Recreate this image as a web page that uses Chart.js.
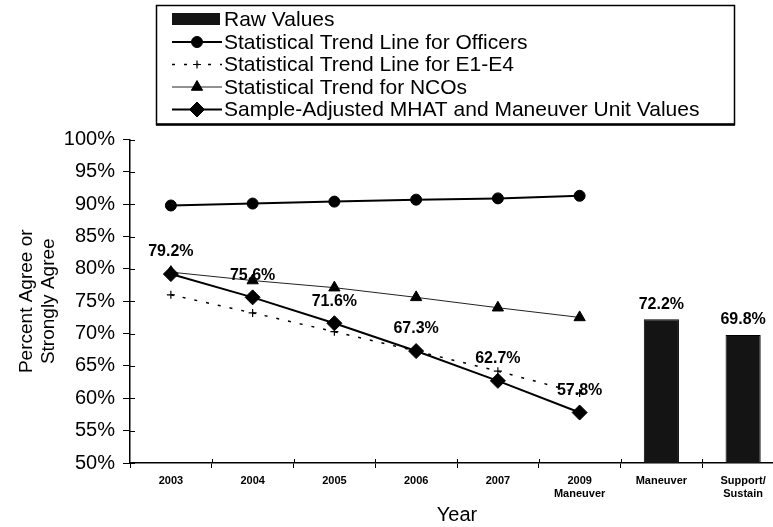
<!DOCTYPE html>
<html>
<head>
<meta charset="utf-8">
<script src="https://cdn.jsdelivr.net/npm/chart.js@4"></script>
<style>
html,body{margin:0;padding:0;background:#fff;overflow:hidden;}
#wrap{position:absolute;left:0;top:0;width:800px;height:527px;}
</style>
</head>
<body>
<div id="wrap"><canvas id="c" width="800" height="527"></canvas></div>
<script>
const categories = ['2003','2004','2005','2006','2007',['2009','Maneuver'],'Maneuver',['Support/','Sustain']];
const rawValues = [null,null,null,null,null,null,72.2,69.8];
const officers = [89.8,90.1,90.4,90.7,90.9,91.3,null,null];
const e1e4 = [76.0,73.2,70.3,67.3,64.2,60.8,null,null];
const ncos = [79.5,78.2,77.1,75.6,74.0,72.5,null,null];
const mhat = [79.2,75.6,71.6,67.3,62.7,57.8,null,null];
const yTicks = [50,55,60,65,70,75,80,85,90,95,100];

const FONT = "'Liberation Sans', Arial, Helvetica, sans-serif";

const legendPlugin = {
  id: 'customLegend',
  afterDraw(chart) {
    const ctx = chart.ctx;
    ctx.save();
    ctx.strokeStyle = '#000';
    ctx.lineWidth = 1.5;
    ctx.strokeRect(156.5, 5.5, 578, 119);
    ctx.lineWidth = 2.5;
    ctx.beginPath(); ctx.moveTo(156, 124.5); ctx.lineTo(735, 124.5); ctx.stroke();
    const rowY = [19, 42, 64.5, 87, 109.5];
    chart.data.datasets.forEach((ds, i) => {
      const y = rowY[i];
      if (ds.type === 'bar') {
        ctx.fillStyle = ds.backgroundColor;
        ctx.fillRect(172, y - 6, 48, 12);
      } else {
        ctx.save();
        ctx.strokeStyle = ds.borderColor;
        ctx.lineWidth = ds.borderWidth;
        ctx.setLineDash(ds.borderDash || []);
        ctx.beginPath(); ctx.moveTo(172, y); ctx.lineTo(222, y); ctx.stroke();
        ctx.restore();
        ctx.fillStyle = ds.pointBackgroundColor;
        ctx.strokeStyle = ds.pointBorderColor;
        ctx.lineWidth = ds.pointBorderWidth;
        Chart.helpers.drawPoint(ctx, {pointStyle: ds.pointStyle, radius: ds.pointRadius, rotation: 0, borderWidth: ds.pointBorderWidth}, 197, y);
      }
      ctx.fillStyle = '#000';
      ctx.font = '21px ' + FONT;
      ctx.textAlign = 'left';
      ctx.textBaseline = 'middle';
      ctx.fillText(ds.label, 224, y + 1);
    });
    ctx.restore();
  }
};

const labelsPlugin = {
  id: 'valueLabels',
  afterDatasetsDraw(chart) {
    const ctx = chart.ctx;
    ctx.save();
    ctx.fillStyle = '#000';
    ctx.font = 'bold 16px ' + FONT;
    ctx.textAlign = 'center';
    ctx.textBaseline = 'middle';
    const mMeta = chart.getDatasetMeta(4);
    mMeta.data.forEach((pt, i) => {
      if (mhat[i] == null) return;
      ctx.fillText(mhat[i].toFixed(1) + '%', pt.x, pt.y - 22);
    });
    const bMeta = chart.getDatasetMeta(0);
    bMeta.data.forEach((bar, i) => {
      if (rawValues[i] == null) return;
      ctx.fillText(rawValues[i].toFixed(1) + '%', bar.x, bar.y - 15);
    });
    ctx.restore();
  }
};

const innerTicks = {
  id: 'innerTicks',
  afterDraw(chart) {
    const ctx = chart.ctx;
    const y = chart.scales.y, x = chart.scales.x;
    ctx.save();
    ctx.strokeStyle = '#000';
    ctx.lineWidth = 1;
    yTicks.forEach(v => {
      const py = Math.round(y.getPixelForValue(v)) + 0.5;
      ctx.beginPath(); ctx.moveTo(y.right, py); ctx.lineTo(y.right + 5, py); ctx.stroke();
    });
    for (let i = 1; i <= categories.length; i++) {
      const px = Math.round(x.getPixelForTick(i - 1) + (x.getPixelForTick(1) - x.getPixelForTick(0)) / 2) + 0.5;
      ctx.beginPath(); ctx.moveTo(px, x.top); ctx.lineTo(px, x.top - 4); ctx.stroke();
    }
    ctx.restore();
  }
};

const ctx = document.getElementById('c').getContext('2d');
new Chart(ctx, {
  data: {
    labels: categories,
    datasets: [
      {
        type: 'bar', label: 'Raw Values', data: rawValues,
        backgroundColor: '#141414', borderColor: '#000', borderWidth: 1,
        barPercentage: 0.43, categoryPercentage: 1, order: 5
      },
      {
        type: 'line', label: 'Statistical Trend Line for Officers', data: officers,
        borderColor: '#000', borderWidth: 2, pointStyle: 'circle', pointRadius: 5.5,
        pointBackgroundColor: '#000', pointBorderColor: '#000', pointBorderWidth: 1, order: 2
      },
      {
        type: 'line', label: 'Statistical Trend Line for E1-E4', data: e1e4,
        borderColor: '#000', borderWidth: 1.5, borderDash: [3, 9], pointStyle: 'cross', pointRadius: 4,
        pointBackgroundColor: '#000', pointBorderColor: '#000', pointBorderWidth: 1.2, order: 3
      },
      {
        type: 'line', label: 'Statistical Trend for NCOs', data: ncos,
        borderColor: '#222', borderWidth: 1, pointStyle: 'triangle', pointRadius: 6.5,
        pointBackgroundColor: '#000', pointBorderColor: '#000', pointBorderWidth: 1, order: 4
      },
      {
        type: 'line', label: 'Sample-Adjusted MHAT and Maneuver Unit Values', data: mhat,
        borderColor: '#000', borderWidth: 2, pointStyle: 'rectRot', pointRadius: 7.5,
        pointBackgroundColor: '#000', pointBorderColor: '#000', pointBorderWidth: 1, order: 1
      }
    ]
  },
  options: {
    responsive: false,
    animation: false,
    layout: { padding: { top: 139.5, right: 16, left: 0, bottom: 0 } },
    plugins: { legend: { display: false }, tooltip: { enabled: false } },
    elements: { line: { tension: 0 } },
    scales: {
      x: {
        type: 'category',
        offset: true,
        grid: { display: true, drawOnChartArea: false, drawTicks: true, tickLength: 5, color: '#000', offset: true },
        border: { display: true, color: '#000', width: 1.5 },
        ticks: { color: '#000', font: { family: FONT, size: 11, weight: 'bold' }, padding: 6, maxRotation: 0, autoSkip: false },
        title: { display: true, text: 'Year', color: '#000', font: { family: FONT, size: 20 }, padding: { top: 0, bottom: 0 } },
        afterFit(scale) { scale.height = 64; }
      },
      y: {
        min: 50, max: 100,
        afterBuildTicks(scale) { scale.ticks = yTicks.map(v => ({ value: v })); },
        grid: { display: true, drawOnChartArea: false, drawTicks: true, tickLength: 7, color: '#000' },
        border: { display: true, color: '#000', width: 1.5 },
        ticks: { color: '#000', font: { family: FONT, size: 20 }, padding: 8, callback: v => v + '%' },
        title: { display: true, text: ['Percent Agree or', 'Strongly Agree'], color: '#000', font: { family: FONT, size: 19, lineHeight: 1.16 }, padding: { top: 16, bottom: 0 } },
        afterFit(scale) { scale.width = 130; }
      }
    }
  },
  plugins: [legendPlugin, labelsPlugin, innerTicks]
});
</script>
</body>
</html>
